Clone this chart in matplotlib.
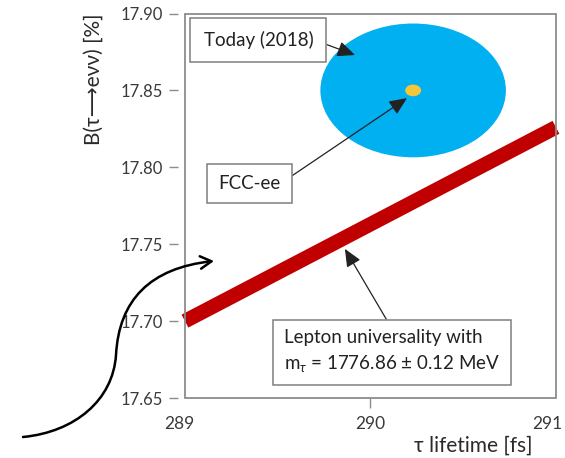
import matplotlib
matplotlib.use("Agg")
import matplotlib.pyplot as plt
import matplotlib.transforms as mtransforms
from matplotlib.patches import Ellipse, Rectangle, FancyArrowPatch
from matplotlib.path import Path

plt.rcParams["font.family"] = ["Lato", "DejaVu Sans"]
plt.rcParams["mathtext.fontset"] = "custom"
plt.rcParams["mathtext.rm"] = "Lato"
plt.rcParams["mathtext.it"] = "Lato:italic"

# Axis ranges and ticks
x_ticks = [289, 290, 291]
y_ticks = [17.65, 17.70, 17.75, 17.80, 17.85, 17.90]

# Today (2018): tau lifetime vs electronic branching fraction
today_center = (290.23, 17.850)
today_halfwidth = (0.50, 0.0435)

# FCC-ee projected precision
fcc_center = (290.23, 17.850)
fcc_halfwidth = (0.043, 0.0038)

# Lepton universality prediction (B_e vs tau lifetime)
lu_tau = [289.0, 291.0]
lu_br = [17.700, 17.826]

fig = plt.figure(figsize=(5.65, 4.58), dpi=100)
ax = fig.add_axes([0.3274, 0.131, 0.6566, 0.8395])
ax.set_xlim(289, 291)
ax.set_ylim(17.65, 17.90)

gray = "#8c8c8c"
for s in ax.spines.values():
    s.set_visible(False)
ax.spines["left"].set_position(("outward", 5))
ax.add_patch(Rectangle((0, 0), 1, 1, transform=ax.transAxes, fill=False,
                       edgecolor=gray, lw=1.3, zorder=5, clip_on=False))

ax.set_xticks(x_ticks)
ax.set_xticklabels([str(t) for t in x_ticks])
ax.set_yticks(y_ticks)
ax.set_yticklabels([f"{t:.2f}" for t in y_ticks])
ax.tick_params(axis="y", length=6.5, width=1.0, color=gray, pad=4,
               labelsize=12, labelcolor="#3a3a3a")
ax.tick_params(axis="x", length=7, width=1.0, color=gray, pad=6,
               labelsize=12.5, labelcolor="#3a3a3a")
xt = ax.xaxis.get_major_ticks()
xt[0].tick1line.set_visible(False)
xt[-1].tick1line.set_visible(False)
xlabels = ax.get_xticklabels()
xlabels[0].set_transform(xlabels[0].get_transform()
                         + mtransforms.ScaledTranslation(-4 / 72, 0, fig.dpi_scale_trans))
xlabels[-1].set_transform(xlabels[-1].get_transform()
                          + mtransforms.ScaledTranslation(-6 / 72, 0, fig.dpi_scale_trans))

ax.set_ylabel("B(τ⟶eνν) [%]", fontsize=15, color="#2a2a2a")
ax.yaxis.set_label_coords(-0.218, 0.83)
ax.set_xlabel("τ lifetime [fs]", fontsize=15, color="#2a2a2a", ha="right")
ax.xaxis.set_label_coords(0.937, -0.098)

ax.add_patch(Ellipse(today_center, 2 * today_halfwidth[0], 2 * today_halfwidth[1],
                     facecolor="#00B0F0", edgecolor="none", zorder=2))
ax.add_patch(Ellipse(fcc_center, 2 * fcc_halfwidth[0], 2 * fcc_halfwidth[1],
                     facecolor="#F5C53A", edgecolor="none", zorder=3))
ax.plot(lu_tau, lu_br, color="#C00000", lw=10.5, solid_capstyle="butt",
        zorder=3, clip_on=False)

box = dict(boxstyle="square,pad=0.7", facecolor="white", edgecolor="#7f7f7f", lw=1.1)
head = dict(arrowstyle="-|>,head_length=0.8,head_width=0.35", color="#222222",
            lw=0.9, shrinkA=0, shrinkB=0)

ax.annotate("Today (2018)", xy=(289.917, 17.873), xycoords="data",
            xytext=(0.198, 0.932), textcoords="axes fraction",
            ha="center", va="center", fontsize=13.5, color="#222222",
            bbox=box, arrowprops=dict(head, relpos=(1.0, 0.5)), zorder=6)
ax.annotate("FCC-ee", xy=(290.197, 17.845), xycoords="data",
            xytext=(0.174, 0.558), textcoords="axes fraction",
            ha="center", va="center", fontsize=13.5, color="#222222",
            bbox=dict(box, boxstyle="square,pad=0.6"),
            arrowprops=dict(head, relpos=(1.0, 0.5)), zorder=6)
ax.annotate("Lepton universality with\nm$_\\tau$ = 1776.86 ± 0.12 MeV",
            xy=(289.862, 17.747), xycoords="data",
            xytext=(0.558, 0.121), textcoords="axes fraction",
            ha="center", va="center", multialignment="left", fontsize=13.5,
            color="#222222", linespacing=1.45,
            bbox=dict(box, boxstyle="square,pad=0.6"),
            arrowprops=dict(head, relpos=(0.5, 1.0)), zorder=6)

# Curved pointer on the left, in figure pixel coordinates
W, H = 565.0, 458.0
def fp(x, y):
    return (x / W, 1 - y / H)

verts = [fp(23, 437), fp(75, 432), fp(113, 400), fp(116, 355),
         fp(119, 300), fp(150, 268), fp(214, 261)]
codes = [Path.MOVETO, Path.CURVE4, Path.CURVE4, Path.CURVE4,
         Path.CURVE4, Path.CURVE4, Path.CURVE4]
curve = FancyArrowPatch(path=Path(verts, codes), transform=fig.transFigure,
                        arrowstyle="->,head_length=8,head_width=4.5",
                        color="black", lw=1.8, zorder=10)
fig.patches.append(curve)

fig.savefig("out.png", dpi=100)
